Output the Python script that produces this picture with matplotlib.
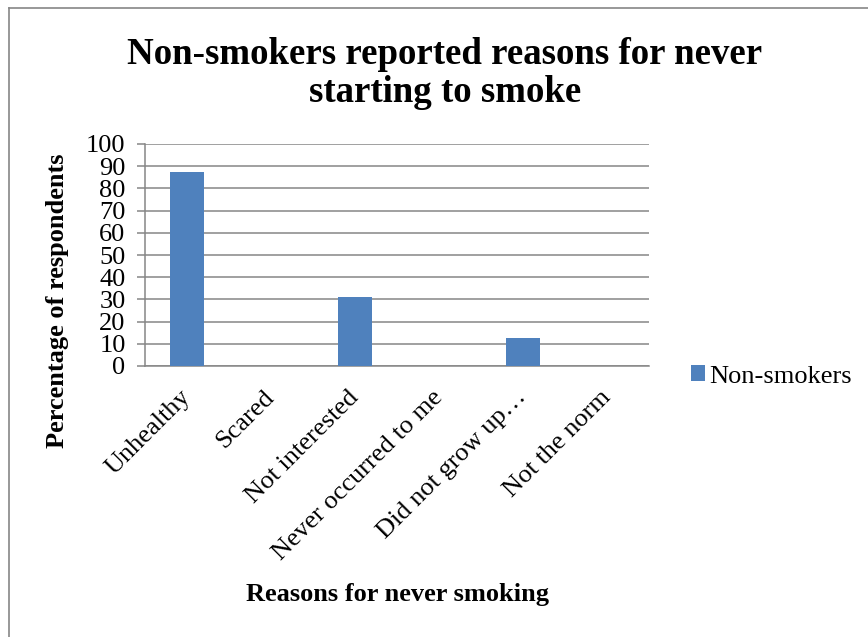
import numpy as np
import matplotlib
matplotlib.use("Agg")
import matplotlib.pyplot as plt
from matplotlib.lines import Line2D

plt.rcParams['font.family'] = ['Liberation Serif', 'DejaVu Serif']

# survey results (% of non-smokers giving each reason)
reasons = ['Unhealthy', 'Scared', 'Not interested', 'Never occurred to me',
           'Did not grow up\u2026', 'Not the norm']
non_smokers = [87.5, 0, 31.25, 0, 12.5, 0]
yticks = list(range(0, 101, 10))

bar_blue = '#4F81BD'
grey = '#868686'

fig = plt.figure(figsize=(8.68, 6.37), dpi=100)
ax = fig.add_axes([145/868, 1 - 366/637, 504/868, 222/637])

x = np.arange(len(reasons))
ax.bar(x, non_smokers, width=0.4, color=bar_blue, label='Non-smokers', zorder=3)

ax.set_xlim(-0.5, len(reasons) - 0.5)
ax.set_ylim(0, 100)
ax.set_yticks(yticks)
ax.yaxis.grid(True, color=grey, linewidth=1.1, zorder=0)
ax.set_axisbelow(True)

for side in ('top', 'right'):
    ax.spines[side].set_visible(False)
for side in ('left', 'bottom'):
    ax.spines[side].set_color(grey)
    ax.spines[side].set_linewidth(1.1)

ax.tick_params(axis='y', length=6, width=1.1, color=grey, pad=8, labelsize=19)
ax.tick_params(axis='x', length=0, pad=20, labelsize=19)
ax.set_xticks(x)
ax.set_xticklabels(reasons, rotation=45, ha='right', va='center',
                   rotation_mode='anchor')

ax.set_xlabel('Reasons for never smoking', fontsize=19, fontweight='bold',
              va='baseline')
ax.xaxis.set_label_coords(0.5, -1.0586)
ax.set_ylabel('Percentage of respondents', fontsize=19, fontweight='bold',
              va='center', ha='center')
ax.yaxis.set_label_coords(-0.1746, 0.295)

ax.legend(loc='center left', bbox_to_anchor=(1.083, -0.047), frameon=False,
          fontsize=19, handlelength=0.55, handleheight=0.55,
          handletextpad=0.15, borderpad=0, borderaxespad=0)

# two-line title; baseline of the second line sits at y=102px
fig.text(445/868, 1 - 102/637, 'Non-smokers reported reasons for never\nstarting to smoke',
         ha='center', va='baseline', fontsize=26.6, fontweight='bold',
         linespacing=1.12, multialignment='center')

# chart frame (top and left edges)
fig.add_artist(Line2D([9/868, 1], [1 - 8/637, 1 - 8/637], color=grey, linewidth=1.2))
fig.add_artist(Line2D([9/868, 9/868], [0, 1 - 8/637], color=grey, linewidth=1.2))

fig.savefig('out.png', dpi=100)
